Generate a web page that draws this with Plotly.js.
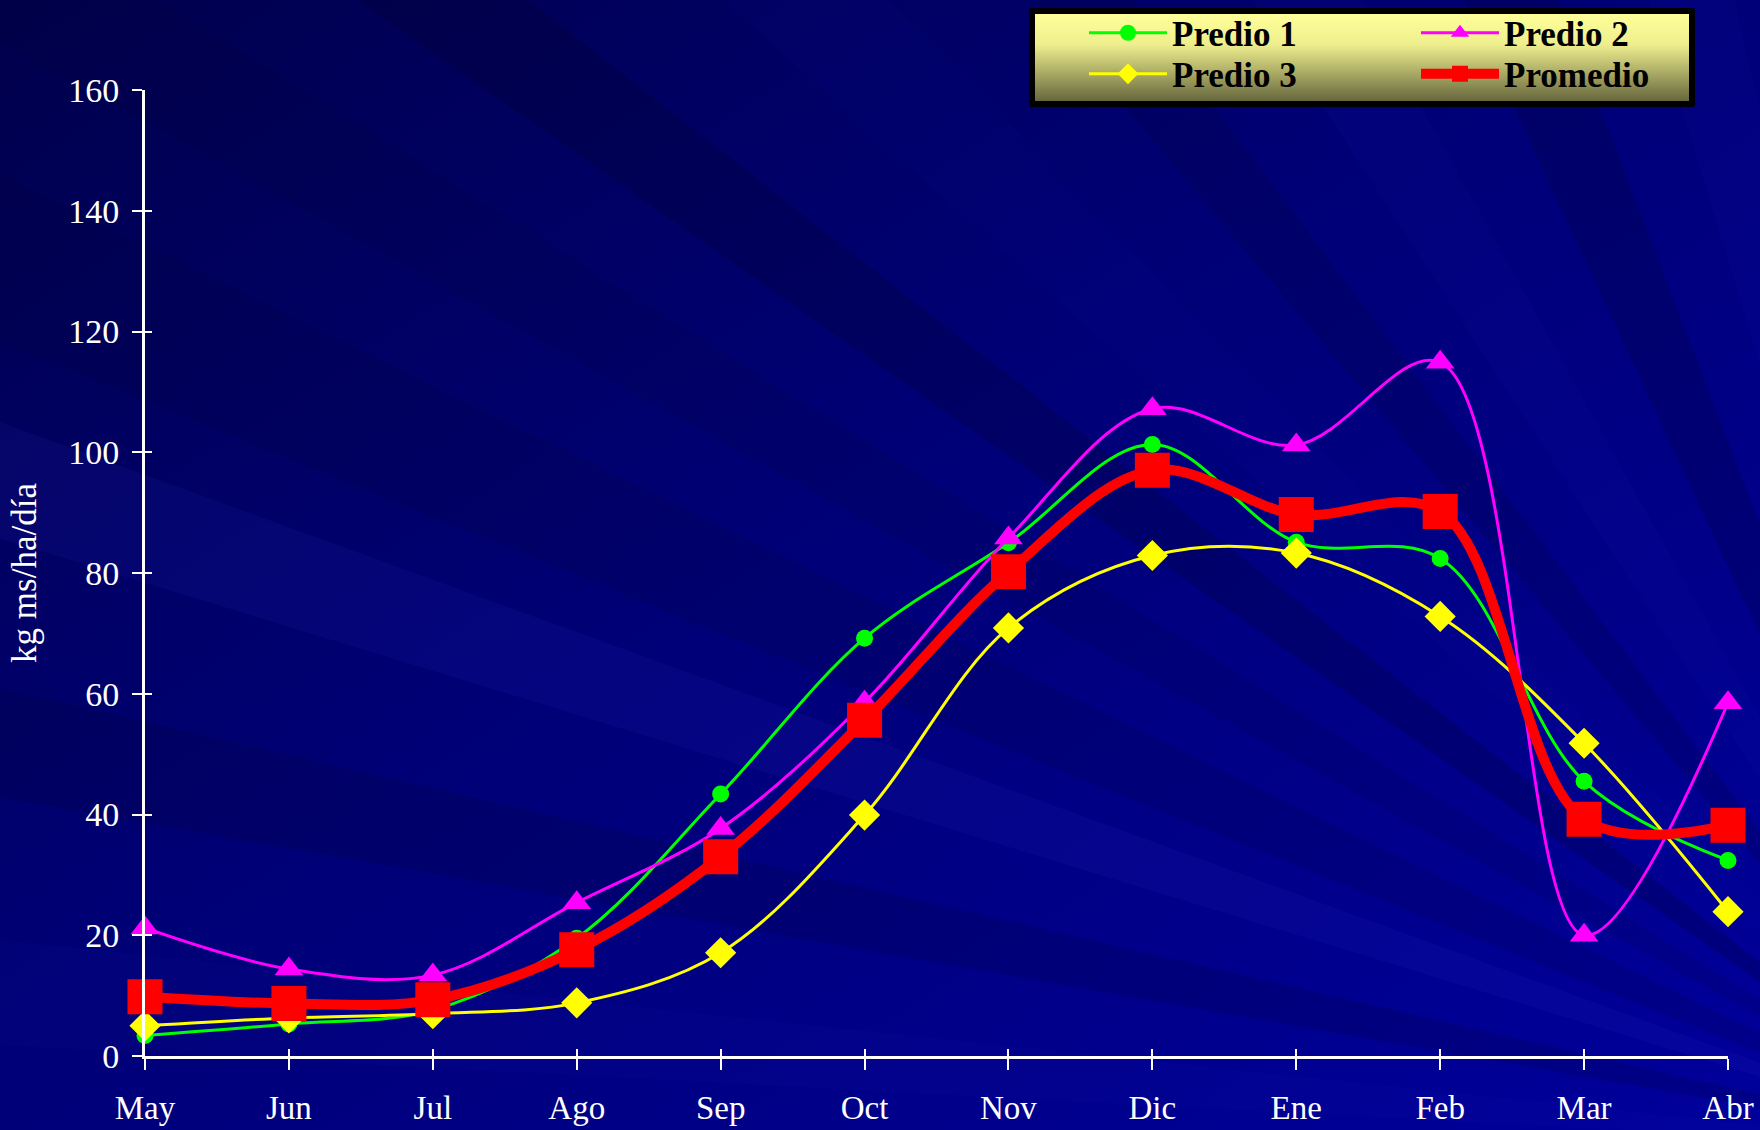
<!DOCTYPE html>
<html>
<head>
<meta charset="utf-8">
<script src="https://cdn.plot.ly/plotly-3.0.1.min.js"></script>
<style>
html,body{margin:0;padding:0;background:#000070;}
#chart{width:1760px;height:1130px;}
</style>
</head>
<body>
<div id="chart"></div>
<script>
// ---- data ----
const months = ["May","Jun","Jul","Ago","Sep","Oct","Nov","Dic","Ene","Feb","Mar","Abr"];
const predio1 = [3.4, 5.3, 7.6, 19.5, 43.4, 69.2, 85.0, 101.3, 85.1, 82.4, 45.5, 32.4];
const predio2 = [21.2, 14.4, 13.4, 25.4, 37.7, 58.6, 85.8, 107.2, 101.2, 114.9, 20.0, 58.5];
const predio3 = [5.0, 6.3, 7.0, 8.8, 17.1, 39.9, 70.9, 82.9, 83.3, 72.8, 51.8, 23.9];
const promedio = [9.8, 8.7, 9.3, 17.6, 33.0, 55.6, 80.2, 97.0, 89.7, 90.2, 39.2, 38.2];
const seriesNames = ["Predio 1","Predio 2","Predio 3","Promedio"];
const yTitle = "kg ms/ha/día";

// ---- geometry ----
const W = 1760, H = 1130;
const M = {l:145, r:32, t:90, b:74, autoexpand:false};
const pw = W - M.l - M.r, ph = H - M.t - M.b;
const px2x = p => (p - M.l) / pw;
const px2y = p => 1 - (p - M.t) / ph;

// ---- background (decoration) ----
const F = [2000, 1150];
const bands = [
  [3, 6, '#2020c0', 0.05], [10, 13, '#000030', 0.18], [17, 20, '#3030d0', 0.10],
  [22, 26, '#000030', 0.14], [29, 32, '#000030', 0.12], [35, 38, '#000020', 0.2],
  [42, 46, '#2020d0', 0.04], [50, 53, '#000030', 0.18], [57, 61, '#2020d0', 0.05],
  [65, 69, '#000030', 0.22], [73, 77, '#2020d0', 0.06]
];
function ray(t){ const r = t*Math.PI/180, R = 3500; return [F[0]-R*Math.cos(r), F[1]-R*Math.sin(r)]; }
let polys = '';
bands.forEach(b => {
  const a = ray(b[0]), c = ray(b[1]);
  polys += `<polygon points="${F[0]},${F[1]} ${a[0].toFixed(1)},${a[1].toFixed(1)} ${c[0].toFixed(1)},${c[1].toFixed(1)}" fill="${b[2]}" fill-opacity="${b[3]}"/>`;
});
const svg = `<svg xmlns="http://www.w3.org/2000/svg" width="${W}" height="${H}" viewBox="0 0 ${W} ${H}">
<defs>
<linearGradient id="bg" x1="0" y1="0" x2="1" y2="1">
<stop offset="0" stop-color="#00004c"/><stop offset="0.45" stop-color="#000076"/><stop offset="1" stop-color="#00009c"/>
</linearGradient>
<linearGradient id="lg" x1="0" y1="0" x2="0" y2="1">
<stop offset="0" stop-color="#ffff99"/><stop offset="0.35" stop-color="#eeee8e"/><stop offset="1" stop-color="#67673d"/>
</linearGradient>
</defs>
<rect x="0" y="0" width="${W}" height="${H}" fill="url(#bg)"/>
${polys}
<rect x="1029" y="8" width="666" height="99" rx="3" fill="#000"/>
<rect x="1035" y="14" width="654" height="87" fill="url(#lg)"/>
</svg>`;
const bgURI = 'data:image/svg+xml;charset=utf-8,' + encodeURIComponent(svg);

// ---- traces ----
const styles = [
  {color:'#00ff00', width:3, symbol:'circle', size:17, legend:'legend'},
  {color:'#ff00ff', width:3, symbol:'triangle-up', size:25, legend:'legend2'},
  {color:'#ffff00', width:3, symbol:'diamond', size:24, legend:'legend3'},
  {color:'#ff0000', width:10, symbol:'square', size:35, legend:'legend4'}
];
const values = [predio1, predio2, predio3, promedio];
const traces = values.map((v, i) => ({
  type:'scatter', mode:'lines+markers', name: seriesNames[i], x: months, y: v,
  line:{color: styles[i].color, width: styles[i].width, shape:'spline', smoothing:1},
  marker:{symbol: styles[i].symbol, size: styles[i].size, color: styles[i].color},
  cliponaxis:false, legend: styles[i].legend
}));
// empty carrier for the inside half of the crossing ticks
traces.push({type:'scatter', x:[], y:[], xaxis:'x2', yaxis:'y2', showlegend:false, hoverinfo:'skip'});

const font = 'Liberation Serif, Times New Roman, serif';
const legFont = {family: font, size: 35, color:'#000000', weight:'bold'};
function leg(xpx, ypx){
  return {x: px2x(xpx), y: px2y(ypx), xanchor:'left', yanchor:'middle',
          bgcolor:'rgba(0,0,0,0)', borderwidth:0, font: legFont, itemwidth: 78};
}

const layout = {
  width: W, height: H,
  margin: M,
  paper_bgcolor:'#000070', plot_bgcolor:'rgba(0,0,0,0)',
  font:{family: font, color:'#ffffff'},
  showlegend: true,
  legend: leg(1084, 33), legend2: leg(1416, 33), legend3: leg(1084, 74), legend4: leg(1416, 74),
  xaxis:{
    type:'category', range:[0, 11], showgrid:false, zeroline:false,
    showline:true, linecolor:'#ffffff', linewidth:3,
    ticks:'outside', ticklen:11, tickwidth:2, tickcolor:'#ffffff',
    tickfont:{family: font, size:33, color:'#ffffff'}, ticklabelstandoff: 9
  },
  yaxis:{
    range:[0, 160], dtick:20, tick0:0, showgrid:false, zeroline:false,
    showline:true, linecolor:'#ffffff', linewidth:3,
    ticks:'outside', ticklen:10, tickwidth:2, tickcolor:'#ffffff',
    tickfont:{family: font, size:34, color:'#ffffff'}, ticklabelstandoff: 6,
    title:{text: yTitle, font:{family: font, size:35, color:'#ffffff'}, standoff: 21}
  },
  xaxis2:{overlaying:'x', anchor:'y', range:[0, 11], dtick:1, tick0:0, showgrid:false, zeroline:false,
    showline:false, ticks:'inside', ticklen:7, tickwidth:2, tickcolor:'#ffffff', showticklabels:false},
  yaxis2:{overlaying:'y', anchor:'x', side:'left', range:[0, 160], dtick:20, tick0:0, showgrid:false, zeroline:false,
    showline:false, ticks:'inside', ticklen:7, tickwidth:2, tickcolor:'#ffffff', showticklabels:false},
  images:[{source: bgURI, xref:'paper', yref:'paper',
    x: px2x(0), y: px2y(0), sizex: W/pw, sizey: H/ph,
    xanchor:'left', yanchor:'top', sizing:'stretch', layer:'below'}]
};

Plotly.newPlot('chart', traces, layout, {displayModeBar:false, staticPlot:true});
</script>
</body>
</html>
